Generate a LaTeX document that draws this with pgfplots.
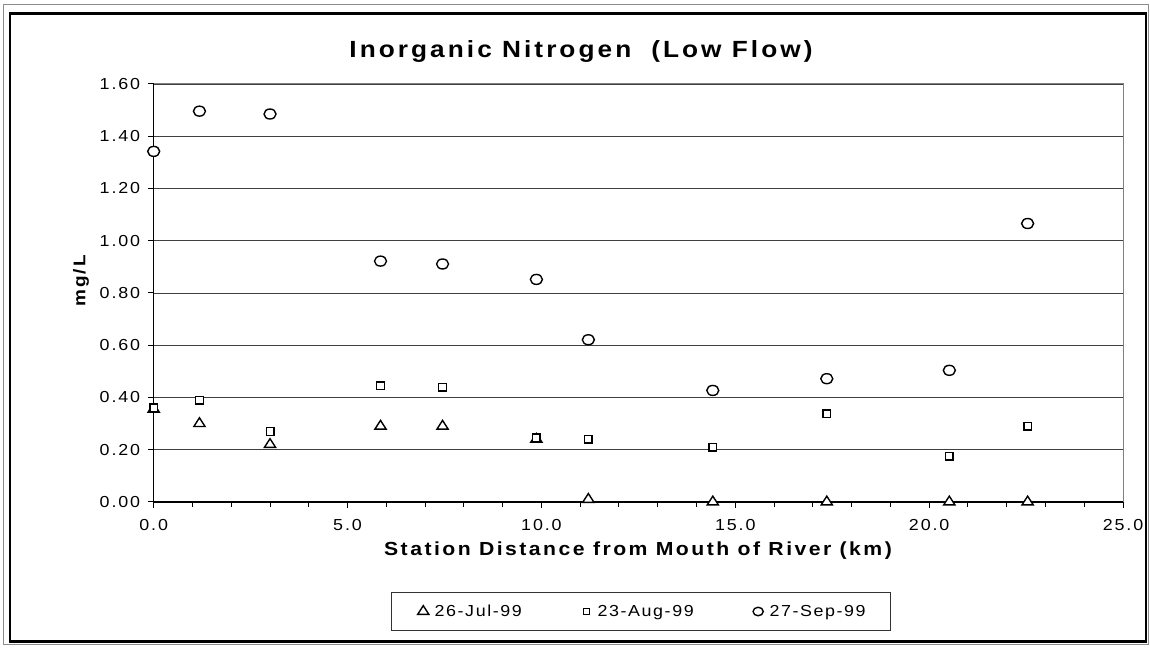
\documentclass[border=0pt]{standalone}
\usepackage{pgfplots}
\pgfplotsset{compat=1.18}
\usepackage{fontspec}
\setmainfont{Liberation Sans}[FakeStretch=1.12, LetterSpace=10]
\newfontfamily\tickfont{Liberation Sans}[FakeStretch=1.12, LetterSpace=12]
\newfontfamily\titlefont{Liberation Sans}[FakeStretch=1.12, LetterSpace=13]
\newfontfamily\labelfont{Liberation Sans}[FakeStretch=1.12, LetterSpace=13]
\pgfplotsset{my legend/.style={legend image code/.code={\path (0bp,0bp) (17bp,0bp); \draw[##1, every mark/.append style={scale=#1}] plot coordinates {(8bp,0bp)};}}}

\begin{document}
\begin{tikzpicture}[x=1bp,y=1bp]
\useasboundingbox (0,0) rectangle (1150,649);
\draw[black!45, line width=0.8bp] (3.5,4.5) rectangle (1148.5,644.5);
\draw[black, line width=2.5bp] (10,7.5) rectangle (1146,635.5);

\begin{axis}[
  at={(153.7bp,147bp)}, anchor=south west,
  scale only axis, width=969.3bp, height=418bp,
  xmin=0, xmax=25, ymin=0, ymax=1.6,
  xtick={0,5,...,25}, minor x tick num=4,
  ytick={0,0.2,...,1.6},
  axis x line*=bottom, axis y line*=left,
  axis line style={-, black, line width=1.5bp},
  tick align=outside,
  major tick length=6bp, minor tick length=5bp,
  every tick/.style={black, line width=1bp},
  ymajorgrids,
  major grid style={black!75, line width=0.9bp},
  /pgf/number format/assume math mode=true,
  ticklabel style={font=\tickfont\fontsize{16}{19}\selectfont},
  yticklabel style={/pgf/number format/.cd, fixed, fixed zerofill, precision=2, /tikz/.cd, xshift=-4bp},
  xticklabel style={/pgf/number format/.cd, fixed, fixed zerofill, precision=1, /tikz/.cd, yshift=-8bp},
  clip=false,
  legend columns=3,
  legend style={at={(0.503,-0.262)}, anchor=center, draw=black!80, line width=0.8bp,
    font=\fontsize{16}{19}\selectfont, inner xsep=23bp, inner ysep=10.5bp,
    /tikz/every even column/.append style={column sep=54bp}},
  legend cell align=left,
]
\draw[black!50, line width=1bp] (rel axis cs:0,1) -- (rel axis cs:1,1) -- (rel axis cs:1,0);

\addplot[only marks, mark=triangle*, mark size=6.5bp,
  mark options={fill=white, draw=black, line width=1.4bp, yscale=0.9}, my legend=1]
  coordinates {(0,0.355) (1.18,0.30) (3.0,0.22) (5.85,0.29) (7.45,0.29) (9.87,0.24) (11.21,0.01) (14.42,0.0) (17.36,0.0) (20.52,0.0) (22.54,0.0)};
\addlegendentry{26-Jul-99}

\addplot[only marks, mark=square*, mark size=3.8bp,
  mark options={fill=white, draw=black, line width=1.4bp}, my legend=0.8]
  coordinates {(0,0.36) (1.18,0.39) (3.0,0.27) (5.85,0.445) (7.45,0.44) (9.87,0.245) (11.21,0.24) (14.42,0.21) (17.36,0.337) (20.52,0.176) (22.54,0.29)};
\addlegendentry{23-Aug-99}

\addplot[only marks, mark=*, mark size=5bp,
  mark options={fill=white, draw=black, line width=1.4bp, xscale=1.2}, my legend=0.85]
  coordinates {(0,1.342) (1.18,1.496) (3.0,1.485) (5.85,0.922) (7.45,0.911) (9.87,0.852) (11.21,0.621) (14.42,0.427) (17.36,0.472) (20.52,0.504) (22.54,1.066)};
\addlegendentry{27-Sep-99}
\end{axis}

\node[font=\titlefont\fontsize{23.5}{28}\selectfont\bfseries] at (581,597) {Inorganic Nitrogen\hspace{20bp}(Low Flow)};
\node[font=\labelfont\fontsize{19}{22}\selectfont\bfseries] at (638,98) {Station Distance from Mouth of River (km)};
\node[font=\labelfont\fontsize{17}{20}\selectfont\bfseries, rotate=90] at (81,368) {mg/L};
\end{tikzpicture}
\end{document}
